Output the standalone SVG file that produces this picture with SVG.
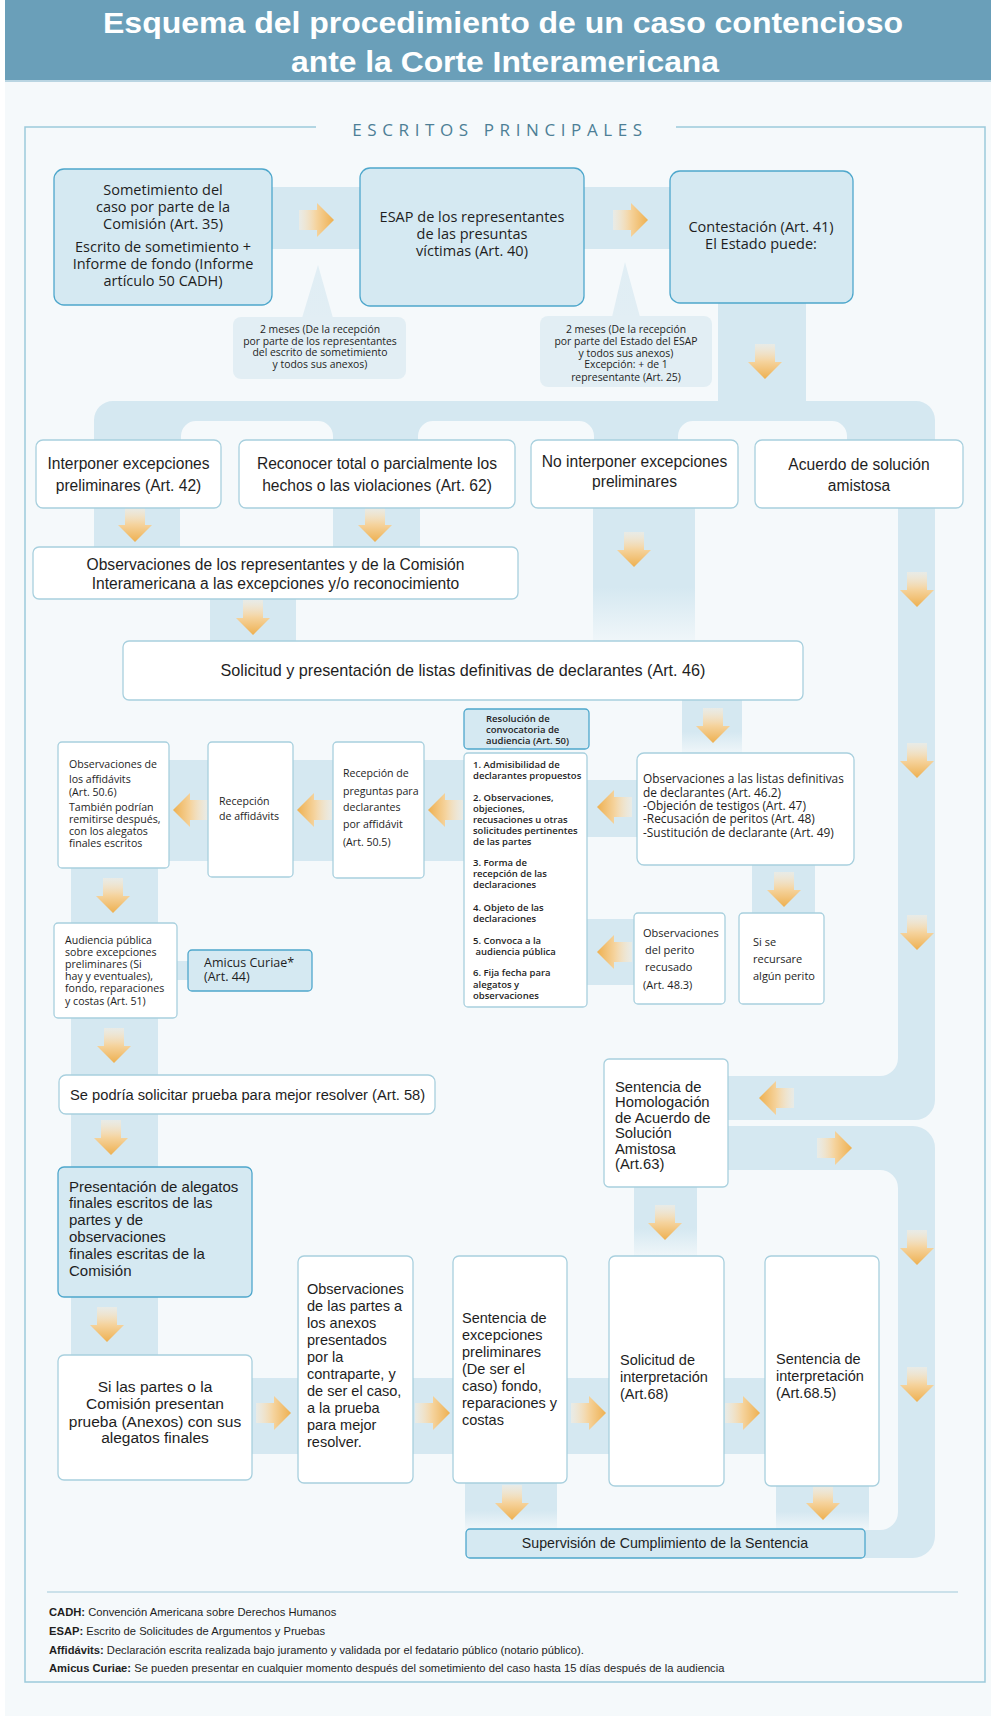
<svg xmlns="http://www.w3.org/2000/svg" width="991" height="1716" viewBox="0 0 991 1716">
<style>
.band{fill:#d5e8f1}
.lb{fill:#d5e9f2;stroke:#4ea7cc;stroke-width:1.3}
.wb{fill:#ffffff;stroke:#a8d0de;stroke-width:1.3}
.ann{fill:#e2eef4}
.g{font-family:"Open Sans","DejaVu Sans",sans-serif;fill:#1e1e1e}
.m{font-family:"Liberation Sans",Arial,sans-serif;fill:#1e1e1e}
.c{text-anchor:middle}
.t14{font-size:14.5px}
.s95{font-size:9.5px}
.s10{font-size:10.6px}
.sa{font-size:10.4px}
.sb{font-weight:600}
.ft{font-family:"Liberation Sans",Arial,sans-serif;font-size:11.2px;fill:#1e1e1e}
</style>
<defs>
<linearGradient id="gA" x1="0" y1="0" x2="1" y2="0">
<stop offset="0" stop-color="#fbeedd" stop-opacity="0.5"/>
<stop offset="0.5" stop-color="#f5d39d"/>
<stop offset="1" stop-color="#eeb050"/>
</linearGradient>
<linearGradient id="fadeD" x1="0" y1="0" x2="0" y2="1">
<stop offset="0" stop-color="#d5e8f1"/>
<stop offset="0.6" stop-color="#d5e8f1"/>
<stop offset="1" stop-color="#d5e8f1" stop-opacity="0.15"/>
</linearGradient>
<linearGradient id="ptr" x1="0" y1="0" x2="0" y2="1">
<stop offset="0" stop-color="#d5e8f1" stop-opacity="0.6"/>
<stop offset="1" stop-color="#e2eef4"/>
</linearGradient>
<path id="arr" d="M-18,-10 H0 V-17 L17,0 L0,17 V10 H-18 Z" fill="url(#gA)"/>
</defs>

<rect x="0" y="0" width="991" height="1716" fill="#f5f9fb"/>
<rect x="0" y="0" width="5" height="1716" fill="#ffffff"/>

<g id="title">
<rect x="5" y="0" width="986" height="80" fill="#6a9fb9"/>
<rect x="5" y="80" width="986" height="2" fill="#b9d5e2"/>
<text x="503" y="33" font-family="Liberation Sans,Arial,sans-serif" font-weight="bold" font-size="29" fill="#ffffff" text-anchor="middle" textLength="800" lengthAdjust="spacingAndGlyphs">Esquema del procedimiento de un caso contencioso</text>
<text x="505" y="72" font-family="Liberation Sans,Arial,sans-serif" font-weight="bold" font-size="29" fill="#ffffff" text-anchor="middle" textLength="428" lengthAdjust="spacingAndGlyphs">ante la Corte Interamericana</text>
</g>

<g id="frame">
<path d="M316,127 H25 V1682 H985 V127 H676" fill="none" stroke="#9ccadb" stroke-width="1.5"/>
<text x="500" y="136" font-family="Open Sans,DejaVu Sans,sans-serif" font-size="17" letter-spacing="5.6" fill="#4d7f96" text-anchor="middle">ESCRITOS PRINCIPALES</text>
</g>

<g id="connectors">
<rect class="band" x="272" y="187" width="88" height="62"/>
<rect class="band" x="584" y="187" width="86" height="62"/>
<rect class="band" x="718" y="303" width="88" height="100"/>
<path class="band" fill-rule="evenodd" d="M94,452 V420 A19,19 0 0 1 113,401 H916 A19,19 0 0 1 935,420 V452 Z M181,452 V436 A15,15 0 0 1 196,421 H318 A15,15 0 0 1 333,436 V452 Z M418,452 V436 A15,15 0 0 1 433,421 H579 A15,15 0 0 1 594,436 V452 Z M678,452 V436 A15,15 0 0 1 693,421 H832 A15,15 0 0 1 847,436 V452 Z"/>
<rect class="band" x="94" y="505" width="86" height="45"/>
<rect class="band" x="333" y="505" width="87" height="45"/>
<rect x="593" y="505" width="102" height="137" fill="url(#fadeD)"/>
<rect class="band" x="210" y="597" width="86" height="46"/>
<rect x="682" y="698" width="60" height="56" fill="url(#fadeD)"/>
<path class="band" d="M898,505 H935 V1100 A20,20 0 0 1 915,1120 H726 V1076 H880 A18,18 0 0 0 898,1058 Z"/>
<path class="band" d="M726,1126 H913 A22,22 0 0 1 935,1148 V1536 A22,22 0 0 1 913,1558 H863 V1530 H880 A18,18 0 0 0 898,1512 V1188 A18,18 0 0 0 880,1170 H726 Z"/>
<rect class="band" x="169" y="760" width="297" height="101"/>
<rect class="band" x="587" y="780" width="52" height="57"/>
<rect class="band" x="587" y="919" width="49" height="66"/>
<rect class="band" x="752" y="863" width="63" height="52"/>
<rect class="band" x="71" y="866" width="87" height="490"/>
<rect class="band" x="176" y="961" width="14" height="19"/>
<rect x="634" y="1185" width="63" height="72" fill="url(#fadeD)"/>
<rect class="band" x="252" y="1378" width="515" height="76"/>
<rect x="465" y="1481" width="92" height="49" fill="url(#fadeD)"/>
<rect x="776" y="1484" width="93" height="46" fill="url(#fadeD)"/>
<path fill="url(#ptr)" d="M302,318 L318,265 L333,318 Z"/>
<path fill="url(#ptr)" d="M612,317 L625,262 L640,317 Z"/>
<use href="#arr" transform="translate(317,220)"/>
<use href="#arr" transform="translate(631,220)"/>
<use href="#arr" transform="translate(765,362) rotate(90)"/>
<use href="#arr" transform="translate(135,525) rotate(90)"/>
<use href="#arr" transform="translate(375,525) rotate(90)"/>
<use href="#arr" transform="translate(634,550) rotate(90)"/>
<use href="#arr" transform="translate(917,590) rotate(90)"/>
<use href="#arr" transform="translate(917,761) rotate(90)"/>
<use href="#arr" transform="translate(917,933) rotate(90)"/>
<use href="#arr" transform="translate(917,1248) rotate(90)"/>
<use href="#arr" transform="translate(917,1385) rotate(90)"/>
<use href="#arr" transform="translate(253,618) rotate(90)"/>
<use href="#arr" transform="translate(713,726) rotate(90)"/>
<use href="#arr" transform="translate(784,890) rotate(90)"/>
<use href="#arr" transform="translate(614,807) rotate(180)"/>
<use href="#arr" transform="translate(614,952) rotate(180)"/>
<use href="#arr" transform="translate(190,810) rotate(180)"/>
<use href="#arr" transform="translate(314,810) rotate(180)"/>
<use href="#arr" transform="translate(445,810) rotate(180)"/>
<use href="#arr" transform="translate(113,896) rotate(90)"/>
<use href="#arr" transform="translate(114,1046) rotate(90)"/>
<use href="#arr" transform="translate(111,1138) rotate(90)"/>
<use href="#arr" transform="translate(107,1325) rotate(90)"/>
<use href="#arr" transform="translate(776,1098) rotate(180)"/>
<use href="#arr" transform="translate(835,1148)"/>
<use href="#arr" transform="translate(665,1223) rotate(90)"/>
<use href="#arr" transform="translate(274,1413)"/>
<use href="#arr" transform="translate(433,1413)"/>
<use href="#arr" transform="translate(589,1413)"/>
<use href="#arr" transform="translate(743,1413)"/>
<use href="#arr" transform="translate(512,1503) rotate(90)"/>
<use href="#arr" transform="translate(823,1503) rotate(90)"/>
</g>

<g id="n-sometimiento">
<rect class="lb" x="54" y="169" width="218" height="136" rx="10"/>
<text class="g c t14"><tspan x="163" y="195">Sometimiento del</tspan><tspan x="163" y="212">caso por parte de la</tspan><tspan x="163" y="229">Comisión (Art. 35)</tspan><tspan x="163" y="252">Escrito de sometimiento +</tspan><tspan x="163" y="269">Informe de fondo (Informe</tspan><tspan x="163" y="286">artículo 50 CADH)</tspan></text>
</g>
<g id="n-plazo1">
<rect class="ann" x="233" y="317" width="173" height="62" rx="8"/>
<text class="g c sa"><tspan x="320" y="333">2 meses (De la recepción</tspan><tspan x="320" y="345">por parte de los representantes</tspan><tspan x="320" y="356">del escrito de sometimiento</tspan><tspan x="320" y="368">y todos sus anexos)</tspan></text>
</g>
<g id="n-esap">
<rect class="lb" x="360" y="168" width="224" height="138" rx="10"/>
<text class="g c t14"><tspan x="472" y="222">ESAP de los representantes</tspan><tspan x="472" y="239">de las presuntas</tspan><tspan x="472" y="256">víctimas (Art. 40)</tspan></text>
</g>
<g id="n-plazo2">
<rect class="ann" x="540" y="316" width="172" height="71" rx="8"/>
<text class="g c sa"><tspan x="626" y="333">2 meses (De la recepción</tspan><tspan x="626" y="345">por parte del Estado del ESAP</tspan><tspan x="626" y="357">y todos sus anexos)</tspan><tspan x="626" y="368">Excepción: + de 1</tspan><tspan x="626" y="381">representante (Art. 25)</tspan></text>
</g>
<g id="n-contestacion">
<rect class="lb" x="670" y="171" width="183" height="132" rx="10"/>
<text class="g c t14"><tspan x="761" y="232">Contestación (Art. 41)</tspan><tspan x="761" y="249">El Estado puede:</tspan></text>
</g>

<g id="n-interponer">
<rect class="wb" x="36" y="440" width="185" height="68" rx="7"/>
<text class="m c" font-size="15.6"><tspan x="128.5" y="469">Interponer excepciones</tspan><tspan x="128.5" y="491">preliminares (Art. 42)</tspan></text>
</g>
<g id="n-reconocer">
<rect class="wb" x="239" y="440" width="276" height="68" rx="7"/>
<text class="m c" font-size="15.6"><tspan x="377" y="469">Reconocer total o parcialmente los</tspan><tspan x="377" y="491">hechos o las violaciones (Art. 62)</tspan></text>
</g>
<g id="n-no-interponer">
<rect class="wb" x="531" y="440" width="207" height="68" rx="7"/>
<text class="m c" font-size="15.6"><tspan x="634.5" y="467">No interponer excepciones</tspan><tspan x="634.5" y="487">preliminares</tspan></text>
</g>
<g id="n-acuerdo">
<rect class="wb" x="755" y="440" width="208" height="68" rx="7"/>
<text class="m c" font-size="15.6"><tspan x="859" y="470">Acuerdo de solución</tspan><tspan x="859" y="491">amistosa</tspan></text>
</g>

<g id="n-observaciones-excepciones">
<rect class="wb" x="33" y="547" width="485" height="52" rx="6"/>
<text class="m c" font-size="15.6"><tspan x="275.5" y="570">Observaciones de los representantes y de la Comisión</tspan><tspan x="275.5" y="589">Interamericana a las excepciones y/o reconocimiento</tspan></text>
</g>
<g id="n-solicitud-listas">
<rect class="wb" x="123" y="641" width="680" height="59" rx="6"/>
<text class="m c" font-size="16.2" x="463" y="676">Solicitud y presentación de listas definitivas de declarantes (Art. 46)</text>
</g>

<g id="n-resolucion">
<rect class="lb" x="464" y="709" width="125" height="40" rx="4"/>
<text class="g s95 sb"><tspan x="486" y="722">Resolución de</tspan><tspan x="486" y="733">convocatoria de</tspan><tspan x="486" y="744">audiencia (Art. 50)</tspan></text>
</g>
<g id="n-lista-resolucion">
<rect class="wb" x="464" y="753" width="123" height="254" rx="4"/>
<text class="g s95 sb"><tspan x="473" y="768">1. Admisibilidad de</tspan><tspan x="473" y="779">declarantes propuestos</tspan><tspan x="473" y="801">2. Observaciones,</tspan><tspan x="473" y="812">objeciones,</tspan><tspan x="473" y="823">recusaciones u otras</tspan><tspan x="473" y="834">solicitudes pertinentes</tspan><tspan x="473" y="845">de las partes</tspan><tspan x="473" y="866">3. Forma de</tspan><tspan x="473" y="877">recepción de las</tspan><tspan x="473" y="888">declaraciones</tspan><tspan x="473" y="911">4. Objeto de las</tspan><tspan x="473" y="922">declaraciones</tspan><tspan x="473" y="944">5. Convoca a la</tspan><tspan x="473" y="955"> audiencia pública</tspan><tspan x="473" y="976">6. Fija fecha para</tspan><tspan x="473" y="988">alegatos y</tspan><tspan x="473" y="999">observaciones</tspan></text>
</g>
<g id="n-observaciones-listas">
<rect class="wb" x="637" y="753" width="217" height="112" rx="7"/>
<text class="g" font-size="11.9"><tspan x="643" y="783">Observaciones a las listas definitivas</tspan><tspan x="643" y="797">de declarantes (Art. 46.2)</tspan><tspan x="643" y="810">-Objeción de testigos (Art. 47)</tspan><tspan x="643" y="823">-Recusación de peritos (Art. 48)</tspan><tspan x="643" y="837">-Sustitución de declarante (Art. 49)</tspan></text>
</g>
<g id="n-perito">
<rect class="wb" x="634" y="913" width="91" height="91" rx="4"/>
<text class="g" font-size="11"><tspan x="643" y="937">Observaciones</tspan><tspan x="645" y="954">del perito</tspan><tspan x="645" y="971">recusado</tspan><tspan x="643" y="989">(Art. 48.3)</tspan></text>
</g>
<g id="n-si-se">
<rect class="wb" x="739" y="913" width="85" height="91" rx="4"/>
<text class="g" font-size="11"><tspan x="753" y="946">Si se</tspan><tspan x="753" y="963">recursare</tspan><tspan x="753" y="980">algún perito</tspan></text>
</g>
<g id="n-preguntas">
<rect class="wb" x="333" y="742" width="91" height="136" rx="4"/>
<text class="g s10"><tspan x="343" y="777">Recepción de</tspan><tspan x="343" y="795">preguntas para</tspan><tspan x="343" y="811">declarantes</tspan><tspan x="343" y="828">por affidávit</tspan><tspan x="343" y="846">(Art. 50.5)</tspan></text>
</g>
<g id="n-recepcion-affidavits">
<rect class="wb" x="208" y="742" width="85" height="135" rx="4"/>
<text class="g s10"><tspan x="219" y="805">Recepción</tspan><tspan x="219" y="820">de affidávits</tspan></text>
</g>
<g id="n-observaciones-affidavits">
<rect class="wb" x="58" y="742" width="111" height="126" rx="4"/>
<text class="g s10"><tspan x="69" y="768">Observaciones de</tspan><tspan x="69" y="783">los affidávits</tspan><tspan x="69" y="796">(Art. 50.6)</tspan><tspan x="69" y="811">También podrían</tspan><tspan x="69" y="823">remitirse después,</tspan><tspan x="69" y="835">con los alegatos</tspan><tspan x="69" y="847">finales escritos</tspan></text>
</g>
<g id="n-audiencia">
<rect class="wb" x="54" y="923" width="123" height="95" rx="4"/>
<text class="g s10"><tspan x="65" y="944">Audiencia pública</tspan><tspan x="65" y="956">sobre excepciones</tspan><tspan x="65" y="968">preliminares (Si</tspan><tspan x="65" y="980">hay y eventuales),</tspan><tspan x="65" y="992">fondo, reparaciones</tspan><tspan x="65" y="1005">y costas (Art. 51)</tspan></text>
</g>
<g id="n-amicus">
<rect class="lb" x="188" y="950" width="124" height="41" rx="4"/>
<text class="g" font-size="12.5"><tspan x="204" y="967">Amicus Curiae*</tspan><tspan x="204" y="981">(Art. 44)</tspan></text>
</g>

<g id="n-prueba-mejor">
<rect class="wb" x="59" y="1075" width="376" height="39" rx="7"/>
<text class="m" font-size="14.7" x="70" y="1100">Se podría solicitar prueba para mejor resolver (Art. 58)</text>
</g>
<g id="n-homologacion">
<rect class="wb" x="604" y="1059" width="124" height="128" rx="5"/>
<text class="m" font-size="14.8"><tspan x="615" y="1092">Sentencia de</tspan><tspan x="615" y="1107">Homologación</tspan><tspan x="615" y="1123">de Acuerdo de</tspan><tspan x="615" y="1138">Solución</tspan><tspan x="615" y="1154">Amistosa</tspan><tspan x="615" y="1169">(Art.63)</tspan></text>
</g>
<g id="n-alegatos">
<rect class="lb" x="58" y="1167" width="194" height="130" rx="6"/>
<text class="m" font-size="15"><tspan x="69" y="1192">Presentación de alegatos</tspan><tspan x="69" y="1208">finales escritos de las</tspan><tspan x="69" y="1225">partes y de</tspan><tspan x="69" y="1242">observaciones</tspan><tspan x="69" y="1259">finales escritas de la</tspan><tspan x="69" y="1276">Comisión</tspan></text>
</g>
<g id="n-anexos">
<rect class="wb" x="58" y="1355" width="194" height="125" rx="6"/>
<text class="m c" font-size="15.5"><tspan x="155" y="1392">Si las partes o la</tspan><tspan x="155" y="1409">Comisión presentan</tspan><tspan x="155" y="1427">prueba (Anexos) con sus</tspan><tspan x="155" y="1443">alegatos finales</tspan></text>
</g>
<g id="n-obs-anexos">
<rect class="wb" x="298" y="1256" width="115" height="227" rx="6"/>
<text class="m t14"><tspan x="307" y="1294">Observaciones</tspan><tspan x="307" y="1311">de las partes a</tspan><tspan x="307" y="1328">los anexos</tspan><tspan x="307" y="1345">presentados</tspan><tspan x="307" y="1362">por la</tspan><tspan x="307" y="1379">contraparte, y</tspan><tspan x="307" y="1396">de ser el caso,</tspan><tspan x="307" y="1413">a la prueba</tspan><tspan x="307" y="1430">para mejor</tspan><tspan x="307" y="1447">resolver.</tspan></text>
</g>
<g id="n-sentencia">
<rect class="wb" x="453" y="1256" width="114" height="227" rx="6"/>
<text class="m t14"><tspan x="462" y="1323">Sentencia de</tspan><tspan x="462" y="1340">excepciones</tspan><tspan x="462" y="1357">preliminares</tspan><tspan x="462" y="1374">(De ser el</tspan><tspan x="462" y="1391">caso) fondo,</tspan><tspan x="462" y="1408">reparaciones y</tspan><tspan x="462" y="1425">costas</tspan></text>
</g>
<g id="n-solicitud-interpretacion">
<rect class="wb" x="609" y="1256" width="115" height="230" rx="6"/>
<text class="m t14"><tspan x="620" y="1365">Solicitud de</tspan><tspan x="620" y="1382">interpretación</tspan><tspan x="620" y="1399">(Art.68)</tspan></text>
</g>
<g id="n-sentencia-interpretacion">
<rect class="wb" x="765" y="1256" width="114" height="230" rx="6"/>
<text class="m t14"><tspan x="776" y="1364">Sentencia de</tspan><tspan x="776" y="1381">interpretación</tspan><tspan x="776" y="1398">(Art.68.5)</tspan></text>
</g>
<g id="n-supervision">
<rect class="lb" x="466" y="1529" width="399" height="29" rx="4"/>
<text class="m c" font-size="14.2" x="665" y="1548">Supervisión de Cumplimiento de la Sentencia</text>
</g>

<g id="legend">
<line x1="47" y1="1592" x2="958" y2="1592" stroke="#bcd9e4" stroke-width="1.3"/>
<text class="ft" x="49" y="1616"><tspan font-weight="bold">CADH:</tspan> Convención Americana sobre Derechos Humanos</text>
<text class="ft" x="49" y="1635"><tspan font-weight="bold">ESAP:</tspan> Escrito de Solicitudes de Argumentos y Pruebas</text>
<text class="ft" x="49" y="1654"><tspan font-weight="bold">Affidávits:</tspan> Declaración escrita realizada bajo juramento y validada por el fedatario público (notario público).</text>
<text class="ft" x="49" y="1672"><tspan font-weight="bold">Amicus Curiae:</tspan>  Se pueden presentar en cualquier momento después del sometimiento del caso hasta 15 días después de la audiencia</text>
</g>
</svg>
